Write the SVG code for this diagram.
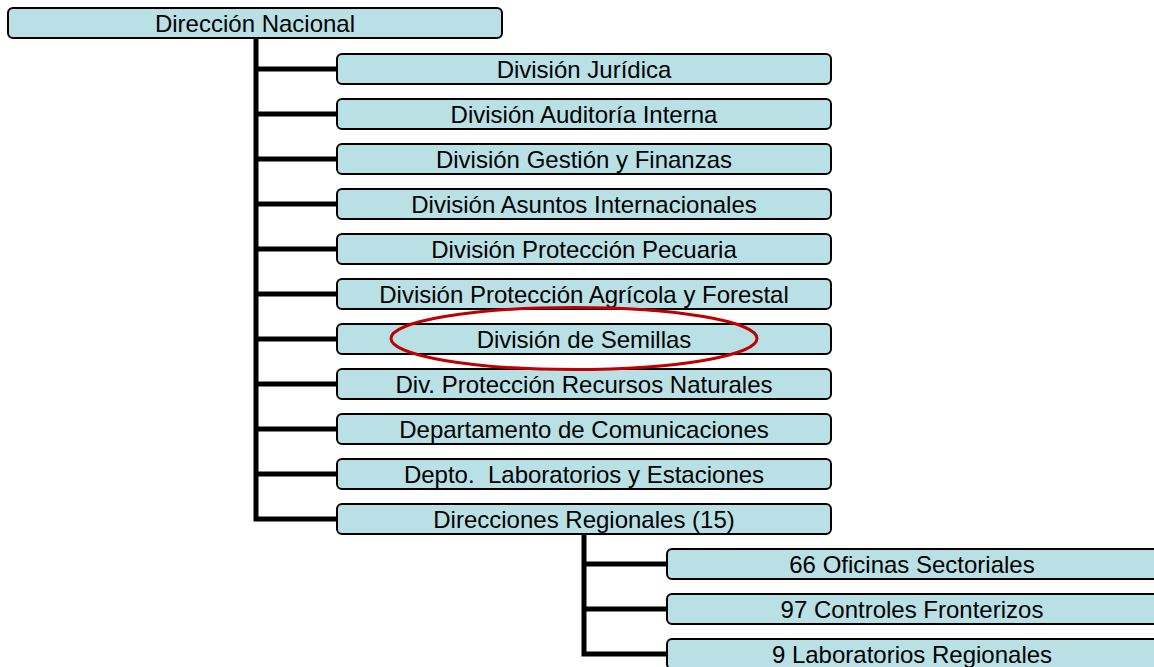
<svg xmlns="http://www.w3.org/2000/svg" width="1154" height="667" viewBox="0 0 1154 667">
<style>
.box{fill:#b9e0e4;stroke:#000;stroke-width:2}
.t{font-family:"Liberation Sans",Arial,sans-serif;font-size:24px;fill:#000;text-anchor:middle}
.c{fill:none;stroke:#000;stroke-width:5}
</style>
<rect width="1154" height="667" fill="#fff"/>
<g id="connectors">
<path class="c" d="M256 38V519H337M256 69H337M256 114H337M256 159H337M256 204H337M256 249H337M256 294H337M256 339H337M256 384H337M256 429H337M256 474H337"/>
<path class="c" d="M584 534V654H667M584 564H667M584 609H667"/>
</g>
<g id="n0"><rect class="box" x="8" y="8" width="494" height="30" rx="5"/><text class="t" x="255" y="32">Dirección Nacional</text></g>
<g id="n1"><rect class="box" x="337" y="54" width="494" height="30" rx="5"/><text class="t" x="584" y="77.5">División Jurídica</text></g>
<g id="n2"><rect class="box" x="337" y="99" width="494" height="30" rx="5"/><text class="t" x="584" y="122.5">División Auditoría Interna</text></g>
<g id="n3"><rect class="box" x="337" y="144" width="494" height="30" rx="5"/><text class="t" x="584" y="167.5">División Gestión y Finanzas</text></g>
<g id="n4"><rect class="box" x="337" y="189" width="494" height="30" rx="5"/><text class="t" x="584" y="212.5">División Asuntos Internacionales</text></g>
<g id="n5"><rect class="box" x="337" y="234" width="494" height="30" rx="5"/><text class="t" x="584" y="257.5">División Protección Pecuaria</text></g>
<g id="n6"><rect class="box" x="337" y="279" width="494" height="30" rx="5"/><text class="t" x="584" y="302.5">División Protección Agrícola y Forestal</text></g>
<g id="n7"><rect class="box" x="337" y="324" width="494" height="30" rx="5"/><text class="t" x="584" y="347.5">División de Semillas</text></g>
<g id="n8"><rect class="box" x="337" y="369" width="494" height="30" rx="5"/><text class="t" x="584" y="392.5">Div. Protección Recursos Naturales</text></g>
<g id="n9"><rect class="box" x="337" y="414" width="494" height="30" rx="5"/><text class="t" x="584" y="437.5">Departamento de Comunicaciones</text></g>
<g id="n10"><rect class="box" x="337" y="459" width="494" height="30" rx="5"/><text class="t" x="584" y="482.5" xml:space="preserve">Depto.  Laboratorios y Estaciones</text></g>
<g id="n11"><rect class="box" x="337" y="504" width="494" height="30" rx="5"/><text class="t" x="584" y="527.5">Direcciones Regionales (15)</text></g>
<g id="n12"><rect class="box" x="667" y="549" width="494" height="30" rx="5"/><text class="t" x="912" y="572.5">66 Oficinas Sectoriales</text></g>
<g id="n13"><rect class="box" x="667" y="594" width="494" height="30" rx="5"/><text class="t" x="912" y="617.5">97 Controles Fronterizos</text></g>
<g id="n14"><rect class="box" x="667" y="639" width="494" height="30" rx="5"/><text class="t" x="912" y="662.5">9 Laboratorios Regionales</text></g>
<ellipse id="highlight" cx="574" cy="338.5" rx="183" ry="31" fill="none" stroke="#c00000" stroke-width="3"/>
</svg>
